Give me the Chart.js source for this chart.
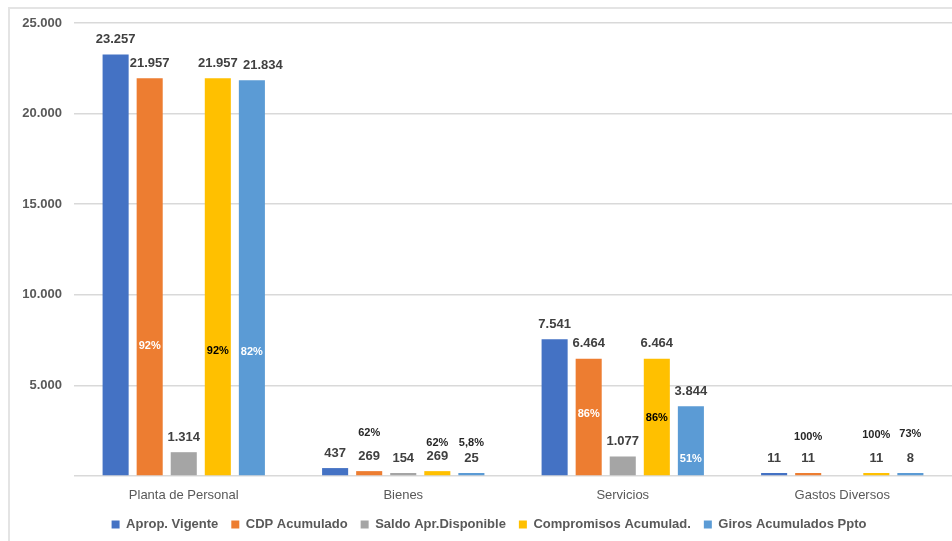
<!DOCTYPE html>
<html>
<head>
<meta charset="utf-8">
<title>Ejecución presupuestal</title>
<script src="https://cdn.jsdelivr.net/npm/chart.js@4/dist/chart.umd.min.js"></script>
<style>
  html, body { margin: 0; padding: 0; background: #fff; }
  #wrap { position: relative; width: 952px; height: 541px; overflow: hidden; }
  #frame { position: absolute; left: 8px; top: 7px; right: -4px; bottom: -4px;
           border-left: 2px solid #e4e4e4; border-top: 2px solid #e4e4e4; }
  #chart { position: absolute; left: 0; top: 0; }
</style>
</head>
<body>
<div id="wrap">
  <div id="frame"></div>
  <canvas id="chart" width="952" height="541"></canvas>
</div>
<script>
// rubros y valores (millones)
const categories = ['Planta de Personal', 'Bienes', 'Servicios', 'Gastos Diversos'];
const apropVigente = [23257, 437, 7541, 11];
const cdpAcumulado = [21957, 269, 6464, 11];
const saldoDisponible = [1314, 154, 1077, 0];
const compromisos = [21957, 269, 6464, 11];
const girosAcumulados = [21834, 25, 3844, 8];

// porcentajes de ejecución
const pctCdp = ['92%', '62%', '86%', '100%'];
const pctCompromisos = ['92%', '62%', '86%', '100%'];
const pctGiros = ['82%', '5,8%', '51%', '73%'];

const yTicks = [0, 5000, 10000, 15000, 20000, 25000];

const FONT = '"Liberation Sans", Arial, sans-serif';

function miles(v) {
    return String(v).replace(/\B(?=(\d{3})+(?!\d))/g, '.');
}

// etiquetas de valor encima de cada barra y porcentajes
const barLabels = {
    id: 'barLabels',
    afterDatasetsDraw(chart, args, opts) {
        const ctx = chart.ctx;
        const y = chart.scales.y;
        ctx.save();
        ctx.textAlign = 'center';
        ctx.textBaseline = 'middle';
        chart.data.datasets.forEach((ds, i) => {
            const meta = chart.getDatasetMeta(i);
            const pctAt = opts.pctAt[i];
            meta.data.forEach((bar, j) => {
                const v = ds.data[j];
                if (!v) return;
                const dx = (opts.shiftX[i + '-' + j] || 0);
                ctx.font = 'bold 13px ' + FONT;
                ctx.fillStyle = '#404040';
                ctx.fillText(miles(v), bar.x + dx, bar.y - 15);
                const pct = ds.pct && ds.pct[j];
                if (pct && pctAt) {
                    const inside = pctAt[j] < v;
                    ctx.font = 'bold 11px ' + FONT;
                    ctx.fillStyle = inside ? ds.pctColor : '#262626';
                    ctx.fillText(pct, bar.x, y.getPixelForValue(pctAt[j]));
                }
            });
        });
        ctx.restore();
    }
};

// corre la leyenda un poco a la derecha
const legendShift = {
    id: 'legendShift',
    afterLayout(chart, args, opts) {
        const lg = chart.legend;
        if (!lg) return;
        lg.left += opts.dx;
        lg.right += opts.dx;
    }
};

const ctx = document.getElementById('chart');
new Chart(ctx, {
    type: 'bar',
    data: {
        labels: categories,
        datasets: [{
            label: 'Aprop. Vigente',
            data: apropVigente,
            backgroundColor: '#4472C4'
        }, {
            label: 'CDP Acumulado',
            data: cdpAcumulado,
            backgroundColor: '#ED7D31',
            pct: pctCdp,
            pctColor: '#ffffff'
        }, {
            label: 'Saldo Apr.Disponible',
            data: saldoDisponible.map(v => v || null),
            backgroundColor: '#A5A5A5'
        }, {
            label: 'Compromisos Acumulad.',
            data: compromisos,
            backgroundColor: '#FFC000',
            pct: pctCompromisos,
            pctColor: '#000000'
        }, {
            label: 'Giros Acumulados Ppto',
            data: girosAcumulados,
            backgroundColor: '#5B9BD5',
            pct: pctGiros,
            pctColor: '#ffffff'
        }]
    },
    options: {
        responsive: false,
        animation: false,
        devicePixelRatio: 1,
        categoryPercentage: 0.776,
        barPercentage: 0.765,
        minBarLength: 3,
        layout: {
            padding: { top: 23, right: 0, bottom: 0, left: 0 }
        },
        scales: {
            x: {
                grid: { display: false },
                border: { display: false },
                ticks: {
                    color: '#595959',
                    padding: 4,
                    font: { family: FONT, size: 13 }
                },
                afterFit(scale) { scale.height = 29; }
            },
            y: {
                min: 0,
                max: 25000,
                afterBuildTicks(scale) {
                    scale.ticks = yTicks.map(v => ({ value: v }));
                },
                grid: { color: '#d9d9d9', lineWidth: 1.5, drawTicks: false },
                border: { display: false },
                ticks: {
                    color: '#595959',
                    padding: 12,
                    font: { family: FONT, size: 13, weight: 'bold' },
                    callback: v => v === 0 ? '' : miles(v)
                },
                afterFit(scale) { scale.width = 74; }
            }
        },
        plugins: {
            legend: {
                position: 'bottom',
                labels: {
                    boxWidth: 8,
                    boxHeight: 8,
                    padding: 13,
                    color: '#595959',
                    font: { family: FONT, size: 13, weight: 'bold' }
                }
            },
            tooltip: { enabled: false },
            legendShift: { dx: 13 },
            barLabels: {
                // altura (en valores del eje) donde van los porcentajes
                pctAt: [null, [7200, 2370, 3420, 2150], null, [6900, 1820, 3200, 2260], [6850, 1820, 940, 2320]],
                shiftX: { '4-0': 11 }
            }
        }
    },
    plugins: [barLabels, legendShift]
});
</script>
</body>
</html>
